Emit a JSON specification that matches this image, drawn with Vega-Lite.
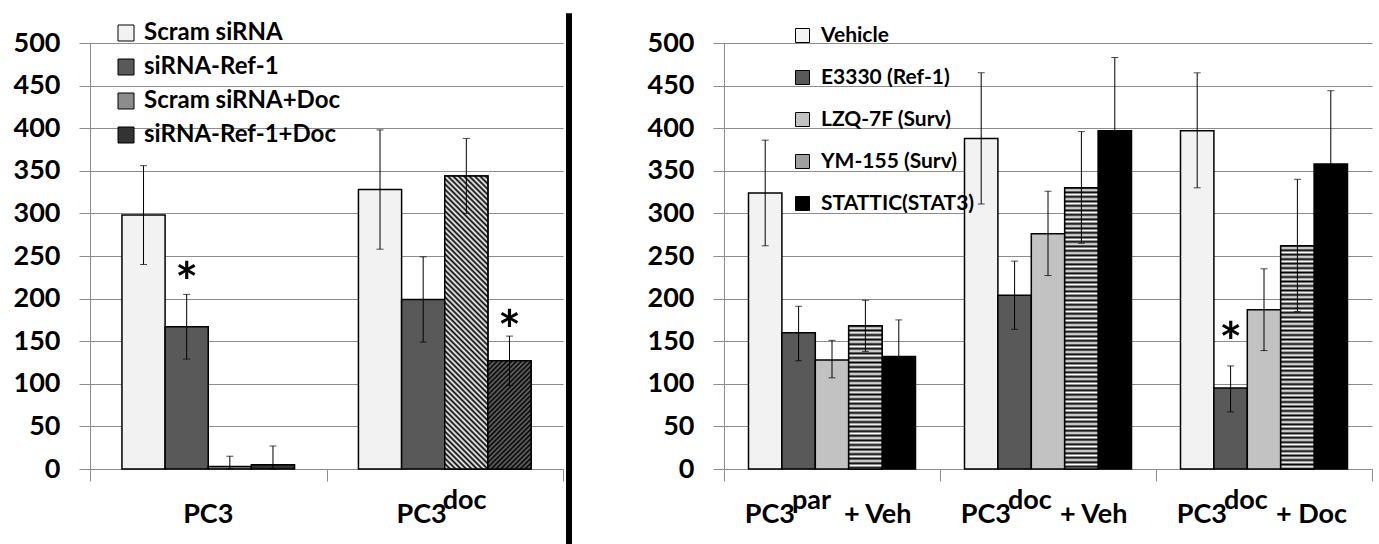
{
  "$schema": "https://vega.github.io/schema/vega-lite/v6.json",
  "padding": {"left": 13, "top": 10, "right": 5, "bottom": 0},
  "spacing": 0,
  "background": "white",
  "datasets": {
    "left_bars": [
      {"cat": "PC3", "s": "Scram siRNA", "v": 298, "lo": 240, "hi": 356},
      {"cat": "PC3", "s": "siRNA-Ref-1", "v": 167, "lo": 129, "hi": 205},
      {"cat": "PC3", "s": "Scram siRNA+Doc", "v": 3, "lo": 0, "hi": 15},
      {"cat": "PC3", "s": "siRNA-Ref-1+Doc", "v": 5, "lo": 0, "hi": 27},
      {"cat": "PC3doc", "s": "Scram siRNA", "v": 328, "lo": 258, "hi": 398},
      {"cat": "PC3doc", "s": "siRNA-Ref-1", "v": 199, "lo": 149, "hi": 249},
      {"cat": "PC3doc", "s": "Scram siRNA+Doc", "v": 344, "lo": 300, "hi": 388},
      {"cat": "PC3doc", "s": "siRNA-Ref-1+Doc", "v": 127, "lo": 98, "hi": 156}
    ],
    "left_stars": [
      {"cat": "PC3", "s": "siRNA-Ref-1", "y": 231, "t": "*"},
      {"cat": "PC3doc", "s": "siRNA-Ref-1+Doc", "y": 175, "t": "*"}
    ],
    "left_labels": [
      {"cat": "PC3", "base": "PC3", "sup": ""},
      {"cat": "PC3doc", "base": "PC3", "sup": "doc"}
    ],
    "right_bars": [
      {"cat": "PC3par + Veh", "s": "Vehicle", "v": 324, "lo": 262, "hi": 386},
      {"cat": "PC3par + Veh", "s": "E3330 (Ref-1)", "v": 160, "lo": 127, "hi": 191},
      {"cat": "PC3par + Veh", "s": "LZQ-7F (Surv)", "v": 128, "lo": 107, "hi": 151},
      {"cat": "PC3par + Veh", "s": "YM-155 (Surv)", "v": 168, "lo": 138, "hi": 198},
      {"cat": "PC3par + Veh", "s": "STATTIC(STAT3)", "v": 132, "lo": 90, "hi": 175},
      {"cat": "PC3doc + Veh", "s": "Vehicle", "v": 388, "lo": 311, "hi": 465},
      {"cat": "PC3doc + Veh", "s": "E3330 (Ref-1)", "v": 204, "lo": 164, "hi": 244},
      {"cat": "PC3doc + Veh", "s": "LZQ-7F (Surv)", "v": 276, "lo": 227, "hi": 326},
      {"cat": "PC3doc + Veh", "s": "YM-155 (Surv)", "v": 330, "lo": 265, "hi": 396},
      {"cat": "PC3doc + Veh", "s": "STATTIC(STAT3)", "v": 397, "lo": 311, "hi": 483},
      {"cat": "PC3doc + Doc", "s": "Vehicle", "v": 397, "lo": 330, "hi": 465},
      {"cat": "PC3doc + Doc", "s": "E3330 (Ref-1)", "v": 95, "lo": 67, "hi": 121},
      {"cat": "PC3doc + Doc", "s": "LZQ-7F (Surv)", "v": 187, "lo": 139, "hi": 235},
      {"cat": "PC3doc + Doc", "s": "YM-155 (Surv)", "v": 262, "lo": 185, "hi": 340},
      {"cat": "PC3doc + Doc", "s": "STATTIC(STAT3)", "v": 358, "lo": 271, "hi": 444}
    ],
    "right_stars": [
      {"cat": "PC3doc + Doc", "s": "E3330 (Ref-1)", "y": 161, "t": "*"}
    ],
    "right_labels": [
      {"cat": "PC3par + Veh", "base": "PC3", "sup": "par", "tail": "+ Veh"},
      {"cat": "PC3doc + Veh", "base": "PC3", "sup": "doc", "tail": "+ Veh"},
      {"cat": "PC3doc + Doc", "base": "PC3", "sup": "doc", "tail": "+ Doc"}
    ],
    "sep": [{"k": 1}]
  },
  "resolve": {
    "scale": {"x": "independent", "y": "independent", "xOffset": "independent", "fill": "independent"},
    "legend": {"fill": "independent"},
    "axis": {"x": "independent", "y": "independent"}
  },
  "hconcat": [
    {
      "width": 473,
      "height": 426,
      "layer": [
        {
          "data": {"name": "left_bars"},
          "mark": {"type": "bar", "stroke": "black", "strokeWidth": 1.5},
          "encoding": {
            "x": {"field": "cat", "type": "nominal", "title": null,
                  "scale": {"domain": ["PC3", "PC3doc"], "paddingInner": 0, "paddingOuter": 0}},
            "xOffset": {"field": "s", "type": "nominal",
                        "scale": {"domain": ["Scram siRNA", "siRNA-Ref-1", "Scram siRNA+Doc", "siRNA-Ref-1+Doc"], "paddingInner": 0, "paddingOuter": 0.7405}},
            "y": {"field": "v", "type": "quantitative", "title": null, "scale": {"domain": [0, 500], "nice": false}},
            "fill": {"field": "s", "type": "nominal",
                     "scale": {"domain": ["Scram siRNA", "siRNA-Ref-1", "Scram siRNA+Doc", "siRNA-Ref-1+Doc"],
                               "range": ["#f2f2f2", "#595959", "#8c8c8c", "#333333"]},
                     "legend": {"orient": "none", "legendX": 24, "legendY": -22, "title": null,
                                "symbolType": "square", "symbolSize": 256, "symbolStrokeColor": "black", "symbolStrokeWidth": 1,
                                "labelFont": "Lato", "labelFontSize": 24, "labelFontWeight": "bold", "labelColor": "black",
                                "labelOffset": 6, "rowPadding": 10, "padding": 0, "labelLimit": 400}}
          }
        },
        {
          "data": {"name": "left_bars"},
          "transform": [{"filter": "datum.cat == 'PC3doc' && datum.s == 'Scram siRNA+Doc'"}],
          "mark": {"type": "bar", "stroke": "black", "strokeWidth": 1.5,
                   "fill": {"gradient": "linear", "x1": 0, "y1": 1, "x2": 0.1653, "y2": -0.1229, "stops": [
{"offset":0,"color":"#000"},{"offset":0.008,"color":"#fff"},{"offset":0.016,"color":"#000"},{"offset":0.024,"color":"#fff"},{"offset":0.032,"color":"#000"},{"offset":0.04,"color":"#fff"},{"offset":0.048,"color":"#000"},{"offset":0.056,"color":"#fff"},{"offset":0.064,"color":"#000"},{"offset":0.072,"color":"#fff"},
{"offset":0.08,"color":"#000"},{"offset":0.088,"color":"#fff"},{"offset":0.096,"color":"#000"},{"offset":0.104,"color":"#fff"},{"offset":0.112,"color":"#000"},{"offset":0.12,"color":"#fff"},{"offset":0.128,"color":"#000"},{"offset":0.136,"color":"#fff"},{"offset":0.144,"color":"#000"},{"offset":0.152,"color":"#fff"},
{"offset":0.16,"color":"#000"},{"offset":0.168,"color":"#fff"},{"offset":0.176,"color":"#000"},{"offset":0.184,"color":"#fff"},{"offset":0.192,"color":"#000"},{"offset":0.2,"color":"#fff"},{"offset":0.208,"color":"#000"},{"offset":0.216,"color":"#fff"},{"offset":0.224,"color":"#000"},{"offset":0.232,"color":"#fff"},
{"offset":0.24,"color":"#000"},{"offset":0.248,"color":"#fff"},{"offset":0.256,"color":"#000"},{"offset":0.264,"color":"#fff"},{"offset":0.272,"color":"#000"},{"offset":0.28,"color":"#fff"},{"offset":0.288,"color":"#000"},{"offset":0.296,"color":"#fff"},{"offset":0.304,"color":"#000"},{"offset":0.312,"color":"#fff"},
{"offset":0.32,"color":"#000"},{"offset":0.328,"color":"#fff"},{"offset":0.336,"color":"#000"},{"offset":0.344,"color":"#fff"},{"offset":0.352,"color":"#000"},{"offset":0.36,"color":"#fff"},{"offset":0.368,"color":"#000"},{"offset":0.376,"color":"#fff"},{"offset":0.384,"color":"#000"},{"offset":0.392,"color":"#fff"},
{"offset":0.4,"color":"#000"},{"offset":0.408,"color":"#fff"},{"offset":0.416,"color":"#000"},{"offset":0.424,"color":"#fff"},{"offset":0.432,"color":"#000"},{"offset":0.44,"color":"#fff"},{"offset":0.448,"color":"#000"},{"offset":0.456,"color":"#fff"},{"offset":0.464,"color":"#000"},{"offset":0.472,"color":"#fff"},
{"offset":0.48,"color":"#000"},{"offset":0.488,"color":"#fff"},{"offset":0.496,"color":"#000"},{"offset":0.504,"color":"#fff"},{"offset":0.512,"color":"#000"},{"offset":0.52,"color":"#fff"},{"offset":0.528,"color":"#000"},{"offset":0.536,"color":"#fff"},{"offset":0.544,"color":"#000"},{"offset":0.552,"color":"#fff"},
{"offset":0.56,"color":"#000"},{"offset":0.568,"color":"#fff"},{"offset":0.576,"color":"#000"},{"offset":0.584,"color":"#fff"},{"offset":0.592,"color":"#000"},{"offset":0.6,"color":"#fff"},{"offset":0.608,"color":"#000"},{"offset":0.616,"color":"#fff"},{"offset":0.624,"color":"#000"},{"offset":0.632,"color":"#fff"},
{"offset":0.64,"color":"#000"},{"offset":0.648,"color":"#fff"},{"offset":0.656,"color":"#000"},{"offset":0.664,"color":"#fff"},{"offset":0.672,"color":"#000"},{"offset":0.68,"color":"#fff"},{"offset":0.688,"color":"#000"},{"offset":0.696,"color":"#fff"},{"offset":0.704,"color":"#000"},{"offset":0.712,"color":"#fff"},
{"offset":0.72,"color":"#000"},{"offset":0.728,"color":"#fff"},{"offset":0.736,"color":"#000"},{"offset":0.744,"color":"#fff"},{"offset":0.752,"color":"#000"},{"offset":0.76,"color":"#fff"},{"offset":0.768,"color":"#000"},{"offset":0.776,"color":"#fff"},{"offset":0.784,"color":"#000"},{"offset":0.792,"color":"#fff"},
{"offset":0.8,"color":"#000"},{"offset":0.808,"color":"#fff"},{"offset":0.816,"color":"#000"},{"offset":0.824,"color":"#fff"},{"offset":0.832,"color":"#000"},{"offset":0.84,"color":"#fff"},{"offset":0.848,"color":"#000"},{"offset":0.856,"color":"#fff"},{"offset":0.864,"color":"#000"},{"offset":0.872,"color":"#fff"},
{"offset":0.88,"color":"#000"},{"offset":0.888,"color":"#fff"},{"offset":0.896,"color":"#000"},{"offset":0.904,"color":"#fff"},{"offset":0.912,"color":"#000"},{"offset":0.92,"color":"#fff"},{"offset":0.928,"color":"#000"},{"offset":0.936,"color":"#fff"},{"offset":0.944,"color":"#000"},{"offset":0.952,"color":"#fff"},
{"offset":0.96,"color":"#000"},{"offset":0.968,"color":"#fff"},{"offset":0.976,"color":"#000"},{"offset":0.984,"color":"#fff"},{"offset":0.992,"color":"#000"},{"offset":1,"color":"#fff"}]}},
          "encoding": {
            "x": {"field": "cat", "type": "nominal", "title": null, "scale": {"domain": ["PC3", "PC3doc"]}},
            "xOffset": {"field": "s", "type": "nominal", "scale": {"domain": ["Scram siRNA", "siRNA-Ref-1", "Scram siRNA+Doc", "siRNA-Ref-1+Doc"]}},
            "y": {"field": "v", "type": "quantitative", "title": null}
          }
        },
        {
          "data": {"name": "left_bars"},
          "transform": [{"filter": "datum.cat == 'PC3doc' && datum.s == 'siRNA-Ref-1+Doc'"}],
          "mark": {"type": "bar", "stroke": "black", "strokeWidth": 1.5,
                   "fill": {"gradient": "linear", "x1": 0, "y1": 0, "x2": 0.4813, "y2": 1.2069, "stops": [
{"offset":0,"color":"#000"},{"offset":0.016,"color":"#6a6a6a"},{"offset":0.032,"color":"#000"},{"offset":0.048,"color":"#6a6a6a"},{"offset":0.064,"color":"#000"},{"offset":0.08,"color":"#6a6a6a"},{"offset":0.096,"color":"#000"},{"offset":0.112,"color":"#6a6a6a"},{"offset":0.128,"color":"#000"},{"offset":0.144,"color":"#6a6a6a"},
{"offset":0.16,"color":"#000"},{"offset":0.176,"color":"#6a6a6a"},{"offset":0.192,"color":"#000"},{"offset":0.208,"color":"#6a6a6a"},{"offset":0.224,"color":"#000"},{"offset":0.24,"color":"#6a6a6a"},{"offset":0.256,"color":"#000"},{"offset":0.272,"color":"#6a6a6a"},{"offset":0.288,"color":"#000"},{"offset":0.304,"color":"#6a6a6a"},
{"offset":0.32,"color":"#000"},{"offset":0.336,"color":"#6a6a6a"},{"offset":0.352,"color":"#000"},{"offset":0.368,"color":"#6a6a6a"},{"offset":0.384,"color":"#000"},{"offset":0.4,"color":"#6a6a6a"},{"offset":0.416,"color":"#000"},{"offset":0.432,"color":"#6a6a6a"},{"offset":0.448,"color":"#000"},{"offset":0.464,"color":"#6a6a6a"},
{"offset":0.48,"color":"#000"},{"offset":0.496,"color":"#6a6a6a"},{"offset":0.512,"color":"#000"},{"offset":0.528,"color":"#6a6a6a"},{"offset":0.544,"color":"#000"},{"offset":0.56,"color":"#6a6a6a"},{"offset":0.576,"color":"#000"},{"offset":0.592,"color":"#6a6a6a"},{"offset":0.608,"color":"#000"},{"offset":0.624,"color":"#6a6a6a"},
{"offset":0.64,"color":"#000"},{"offset":0.656,"color":"#6a6a6a"},{"offset":0.672,"color":"#000"},{"offset":0.688,"color":"#6a6a6a"},{"offset":0.704,"color":"#000"},{"offset":0.72,"color":"#6a6a6a"},{"offset":0.736,"color":"#000"},{"offset":0.752,"color":"#6a6a6a"},{"offset":0.768,"color":"#000"},{"offset":0.784,"color":"#6a6a6a"},
{"offset":0.8,"color":"#000"},{"offset":0.816,"color":"#6a6a6a"},{"offset":0.832,"color":"#000"},{"offset":0.848,"color":"#6a6a6a"},{"offset":0.864,"color":"#000"},{"offset":0.88,"color":"#6a6a6a"},{"offset":0.896,"color":"#000"},{"offset":0.912,"color":"#6a6a6a"},{"offset":0.928,"color":"#000"},{"offset":0.944,"color":"#6a6a6a"},
{"offset":0.96,"color":"#000"},{"offset":0.976,"color":"#6a6a6a"},{"offset":0.992,"color":"#000"},{"offset":1,"color":"#6a6a6a"}]}},
          "encoding": {
            "x": {"field": "cat", "type": "nominal", "title": null, "scale": {"domain": ["PC3", "PC3doc"]}},
            "xOffset": {"field": "s", "type": "nominal", "scale": {"domain": ["Scram siRNA", "siRNA-Ref-1", "Scram siRNA+Doc", "siRNA-Ref-1+Doc"]}},
            "y": {"field": "v", "type": "quantitative", "title": null}
          }
        },
        {
          "data": {"name": "left_bars"},
          "mark": {"type": "rule", "color": "black", "strokeWidth": 1},
          "encoding": {
            "x": {"field": "cat", "type": "nominal", "title": null, "scale": {"domain": ["PC3", "PC3doc"]}},
            "xOffset": {"field": "s", "type": "nominal", "scale": {"domain": ["Scram siRNA", "siRNA-Ref-1", "Scram siRNA+Doc", "siRNA-Ref-1+Doc"]}},
            "y": {"field": "lo", "type": "quantitative", "title": null},
            "y2": {"field": "hi"}
          }
        },
        {
          "data": {"name": "left_bars"},
          "mark": {"type": "tick", "color": "black", "size": 7, "thickness": 1},
          "encoding": {
            "x": {"field": "cat", "type": "nominal", "title": null, "scale": {"domain": ["PC3", "PC3doc"]}},
            "xOffset": {"field": "s", "type": "nominal", "scale": {"domain": ["Scram siRNA", "siRNA-Ref-1", "Scram siRNA+Doc", "siRNA-Ref-1+Doc"]}},
            "y": {"field": "hi", "type": "quantitative", "title": null}
          }
        },
        {
          "data": {"name": "left_bars"},
          "mark": {"type": "tick", "color": "black", "size": 7, "thickness": 1},
          "encoding": {
            "x": {"field": "cat", "type": "nominal", "title": null, "scale": {"domain": ["PC3", "PC3doc"]}},
            "xOffset": {"field": "s", "type": "nominal", "scale": {"domain": ["Scram siRNA", "siRNA-Ref-1", "Scram siRNA+Doc", "siRNA-Ref-1+Doc"]}},
            "y": {"field": "lo", "type": "quantitative", "title": null}
          }
        },
        {
          "data": {"name": "left_stars"},
          "mark": {"type": "text", "font": "Lato", "fontSize": 54, "fontWeight": "bold", "baseline": "middle", "color": "black", "dy": 13},
          "encoding": {
            "x": {"field": "cat", "type": "nominal", "title": null, "scale": {"domain": ["PC3", "PC3doc"]}},
            "xOffset": {"field": "s", "type": "nominal", "scale": {"domain": ["Scram siRNA", "siRNA-Ref-1", "Scram siRNA+Doc", "siRNA-Ref-1+Doc"]}},
            "y": {"field": "y", "type": "quantitative", "title": null},
            "text": {"field": "t"}
          }
        },
        {
          "data": {"name": "left_labels"},
          "transform": [{"filter": "datum.sup == ''"}],
          "mark": {"type": "text", "font": "Lato", "fontSize": 27, "fontWeight": "bold", "baseline": "alphabetic", "align": "center", "color": "black", "dy": 54},
          "encoding": {
            "x": {"field": "cat", "type": "nominal", "title": null, "scale": {"domain": ["PC3", "PC3doc"]}},
            "y": {"datum": 0},
            "text": {"field": "base"}
          }
        },
        {
          "data": {"name": "left_labels"},
          "transform": [{"filter": "datum.sup != ''"}],
          "mark": {"type": "text", "font": "Lato", "fontSize": 27, "fontWeight": "bold", "baseline": "alphabetic", "align": "right", "color": "black", "dy": 54, "dx": 2},
          "encoding": {
            "x": {"field": "cat", "type": "nominal", "title": null, "scale": {"domain": ["PC3", "PC3doc"]}},
            "y": {"datum": 0},
            "text": {"field": "base"}
          }
        },
        {
          "data": {"name": "left_labels"},
          "transform": [{"filter": "datum.sup != ''"}],
          "mark": {"type": "text", "font": "Lato", "fontSize": 27, "fontWeight": "bold", "baseline": "alphabetic", "align": "left", "color": "black", "dy": 40, "dx": -2},
          "encoding": {
            "x": {"field": "cat", "type": "nominal", "title": null, "scale": {"domain": ["PC3", "PC3doc"]}},
            "y": {"datum": 0},
            "text": {"field": "sup"}
          }
        }
      ]
    },
    {
      "width": 83,
      "height": 426,
      "data": {"name": "sep"},
      "mark": {"type": "rule", "color": "black", "strokeWidth": 6},
      "encoding": {
        "x": {"datum": 5, "type": "quantitative", "scale": {"domain": [0, 83]}, "axis": null},
        "y": {"datum": 535, "type": "quantitative", "scale": {"domain": [0, 500]}, "axis": null},
        "y2": {"datum": -92}
      }
    },
    {
      "width": 648,
      "height": 426,
      "layer": [
        {
          "data": {"name": "right_bars"},
          "mark": {"type": "bar", "stroke": "black", "strokeWidth": 1.5},
          "encoding": {
            "x": {"field": "cat", "type": "nominal", "title": null,
                  "scale": {"domain": ["PC3par + Veh", "PC3doc + Veh", "PC3doc + Doc"], "paddingInner": 0, "paddingOuter": 0}},
            "xOffset": {"field": "s", "type": "nominal",
                        "scale": {"domain": ["Vehicle", "E3330 (Ref-1)", "LZQ-7F (Surv)", "YM-155 (Surv)", "STATTIC(STAT3)"], "paddingInner": 0, "paddingOuter": 0.7335}},
            "y": {"field": "v", "type": "quantitative", "title": null, "scale": {"domain": [0, 500], "nice": false}},
            "fill": {"field": "s", "type": "nominal",
                     "scale": {"domain": ["Vehicle", "E3330 (Ref-1)", "LZQ-7F (Surv)", "YM-155 (Surv)", "STATTIC(STAT3)"],
                               "range": ["#f2f2f2", "#595959", "#c2c2c2", "#a0a0a0", "#000000"]},
                     "legend": {"orient": "none", "legendX": 68, "legendY": -18, "title": null,
                                "symbolType": "square", "symbolSize": 196, "symbolStrokeColor": "black", "symbolStrokeWidth": 1,
                                "labelFont": "Lato", "labelFontSize": 21, "labelFontWeight": "bold", "labelColor": "black",
                                "labelOffset": 8, "rowPadding": 20, "padding": 0, "labelLimit": 400}}
          }
        },
        {
          "data": {"name": "right_bars"},
          "transform": [{"filter": "datum.cat == 'PC3par + Veh' && datum.s == 'YM-155 (Surv)'"}],
          "mark": {"type": "bar", "stroke": "black", "strokeWidth": 1.5,
                   "fill": {"gradient": "linear", "x1": 0, "y1": 0, "x2": 0, "y2": 1, "stops": [
{"offset":0,"color":"#000"},{"offset":0.016,"color":"#fff"},{"offset":0.032,"color":"#000"},{"offset":0.048,"color":"#fff"},{"offset":0.064,"color":"#000"},{"offset":0.08,"color":"#fff"},{"offset":0.096,"color":"#000"},{"offset":0.112,"color":"#fff"},{"offset":0.128,"color":"#000"},{"offset":0.144,"color":"#fff"},
{"offset":0.16,"color":"#000"},{"offset":0.176,"color":"#fff"},{"offset":0.192,"color":"#000"},{"offset":0.208,"color":"#fff"},{"offset":0.224,"color":"#000"},{"offset":0.24,"color":"#fff"},{"offset":0.256,"color":"#000"},{"offset":0.272,"color":"#fff"},{"offset":0.288,"color":"#000"},{"offset":0.304,"color":"#fff"},
{"offset":0.32,"color":"#000"},{"offset":0.336,"color":"#fff"},{"offset":0.352,"color":"#000"},{"offset":0.368,"color":"#fff"},{"offset":0.384,"color":"#000"},{"offset":0.4,"color":"#fff"},{"offset":0.416,"color":"#000"},{"offset":0.432,"color":"#fff"},{"offset":0.448,"color":"#000"},{"offset":0.464,"color":"#fff"},
{"offset":0.48,"color":"#000"},{"offset":0.496,"color":"#fff"},{"offset":0.512,"color":"#000"},{"offset":0.528,"color":"#fff"},{"offset":0.544,"color":"#000"},{"offset":0.56,"color":"#fff"},{"offset":0.576,"color":"#000"},{"offset":0.592,"color":"#fff"},{"offset":0.608,"color":"#000"},{"offset":0.624,"color":"#fff"},
{"offset":0.64,"color":"#000"},{"offset":0.656,"color":"#fff"},{"offset":0.672,"color":"#000"},{"offset":0.688,"color":"#fff"},{"offset":0.704,"color":"#000"},{"offset":0.72,"color":"#fff"},{"offset":0.736,"color":"#000"},{"offset":0.752,"color":"#fff"},{"offset":0.768,"color":"#000"},{"offset":0.784,"color":"#fff"},
{"offset":0.8,"color":"#000"},{"offset":0.816,"color":"#fff"},{"offset":0.832,"color":"#000"},{"offset":0.848,"color":"#fff"},{"offset":0.864,"color":"#000"},{"offset":0.88,"color":"#fff"},{"offset":0.896,"color":"#000"},{"offset":0.912,"color":"#fff"},{"offset":0.928,"color":"#000"},{"offset":0.944,"color":"#fff"},
{"offset":0.96,"color":"#000"},{"offset":0.976,"color":"#fff"},{"offset":0.992,"color":"#000"},{"offset":1,"color":"#fff"}]}},
          "encoding": {
            "x": {"field": "cat", "type": "nominal", "title": null, "scale": {"domain": ["PC3par + Veh", "PC3doc + Veh", "PC3doc + Doc"]}},
            "xOffset": {"field": "s", "type": "nominal", "scale": {"domain": ["Vehicle", "E3330 (Ref-1)", "LZQ-7F (Surv)", "YM-155 (Surv)", "STATTIC(STAT3)"]}},
            "y": {"field": "v", "type": "quantitative", "title": null}
          }
        },
        {
          "data": {"name": "right_bars"},
          "transform": [{"filter": "datum.cat == 'PC3doc + Veh' && datum.s == 'YM-155 (Surv)'"}],
          "mark": {"type": "bar", "stroke": "black", "strokeWidth": 1.5,
                   "fill": {"gradient": "linear", "x1": 0, "y1": 0, "x2": 0, "y2": 1, "stops": [
{"offset":0,"color":"#000"},{"offset":0.008,"color":"#fff"},{"offset":0.016,"color":"#000"},{"offset":0.024,"color":"#fff"},{"offset":0.032,"color":"#000"},{"offset":0.04,"color":"#fff"},{"offset":0.048,"color":"#000"},{"offset":0.056,"color":"#fff"},{"offset":0.064,"color":"#000"},{"offset":0.072,"color":"#fff"},
{"offset":0.08,"color":"#000"},{"offset":0.088,"color":"#fff"},{"offset":0.096,"color":"#000"},{"offset":0.104,"color":"#fff"},{"offset":0.112,"color":"#000"},{"offset":0.12,"color":"#fff"},{"offset":0.128,"color":"#000"},{"offset":0.136,"color":"#fff"},{"offset":0.144,"color":"#000"},{"offset":0.152,"color":"#fff"},
{"offset":0.16,"color":"#000"},{"offset":0.168,"color":"#fff"},{"offset":0.176,"color":"#000"},{"offset":0.184,"color":"#fff"},{"offset":0.192,"color":"#000"},{"offset":0.2,"color":"#fff"},{"offset":0.208,"color":"#000"},{"offset":0.216,"color":"#fff"},{"offset":0.224,"color":"#000"},{"offset":0.232,"color":"#fff"},
{"offset":0.24,"color":"#000"},{"offset":0.248,"color":"#fff"},{"offset":0.256,"color":"#000"},{"offset":0.264,"color":"#fff"},{"offset":0.272,"color":"#000"},{"offset":0.28,"color":"#fff"},{"offset":0.288,"color":"#000"},{"offset":0.296,"color":"#fff"},{"offset":0.304,"color":"#000"},{"offset":0.312,"color":"#fff"},
{"offset":0.32,"color":"#000"},{"offset":0.328,"color":"#fff"},{"offset":0.336,"color":"#000"},{"offset":0.344,"color":"#fff"},{"offset":0.352,"color":"#000"},{"offset":0.36,"color":"#fff"},{"offset":0.368,"color":"#000"},{"offset":0.376,"color":"#fff"},{"offset":0.384,"color":"#000"},{"offset":0.392,"color":"#fff"},
{"offset":0.4,"color":"#000"},{"offset":0.408,"color":"#fff"},{"offset":0.416,"color":"#000"},{"offset":0.424,"color":"#fff"},{"offset":0.432,"color":"#000"},{"offset":0.44,"color":"#fff"},{"offset":0.448,"color":"#000"},{"offset":0.456,"color":"#fff"},{"offset":0.464,"color":"#000"},{"offset":0.472,"color":"#fff"},
{"offset":0.48,"color":"#000"},{"offset":0.488,"color":"#fff"},{"offset":0.496,"color":"#000"},{"offset":0.504,"color":"#fff"},{"offset":0.512,"color":"#000"},{"offset":0.52,"color":"#fff"},{"offset":0.528,"color":"#000"},{"offset":0.536,"color":"#fff"},{"offset":0.544,"color":"#000"},{"offset":0.552,"color":"#fff"},
{"offset":0.56,"color":"#000"},{"offset":0.568,"color":"#fff"},{"offset":0.576,"color":"#000"},{"offset":0.584,"color":"#fff"},{"offset":0.592,"color":"#000"},{"offset":0.6,"color":"#fff"},{"offset":0.608,"color":"#000"},{"offset":0.616,"color":"#fff"},{"offset":0.624,"color":"#000"},{"offset":0.632,"color":"#fff"},
{"offset":0.64,"color":"#000"},{"offset":0.648,"color":"#fff"},{"offset":0.656,"color":"#000"},{"offset":0.664,"color":"#fff"},{"offset":0.672,"color":"#000"},{"offset":0.68,"color":"#fff"},{"offset":0.688,"color":"#000"},{"offset":0.696,"color":"#fff"},{"offset":0.704,"color":"#000"},{"offset":0.712,"color":"#fff"},
{"offset":0.72,"color":"#000"},{"offset":0.728,"color":"#fff"},{"offset":0.736,"color":"#000"},{"offset":0.744,"color":"#fff"},{"offset":0.752,"color":"#000"},{"offset":0.76,"color":"#fff"},{"offset":0.768,"color":"#000"},{"offset":0.776,"color":"#fff"},{"offset":0.784,"color":"#000"},{"offset":0.792,"color":"#fff"},
{"offset":0.8,"color":"#000"},{"offset":0.808,"color":"#fff"},{"offset":0.816,"color":"#000"},{"offset":0.824,"color":"#fff"},{"offset":0.832,"color":"#000"},{"offset":0.84,"color":"#fff"},{"offset":0.848,"color":"#000"},{"offset":0.856,"color":"#fff"},{"offset":0.864,"color":"#000"},{"offset":0.872,"color":"#fff"},
{"offset":0.88,"color":"#000"},{"offset":0.888,"color":"#fff"},{"offset":0.896,"color":"#000"},{"offset":0.904,"color":"#fff"},{"offset":0.912,"color":"#000"},{"offset":0.92,"color":"#fff"},{"offset":0.928,"color":"#000"},{"offset":0.936,"color":"#fff"},{"offset":0.944,"color":"#000"},{"offset":0.952,"color":"#fff"},
{"offset":0.96,"color":"#000"},{"offset":0.968,"color":"#fff"},{"offset":0.976,"color":"#000"},{"offset":0.984,"color":"#fff"},{"offset":0.992,"color":"#000"},{"offset":1,"color":"#fff"}]}},
          "encoding": {
            "x": {"field": "cat", "type": "nominal", "title": null, "scale": {"domain": ["PC3par + Veh", "PC3doc + Veh", "PC3doc + Doc"]}},
            "xOffset": {"field": "s", "type": "nominal", "scale": {"domain": ["Vehicle", "E3330 (Ref-1)", "LZQ-7F (Surv)", "YM-155 (Surv)", "STATTIC(STAT3)"]}},
            "y": {"field": "v", "type": "quantitative", "title": null}
          }
        },
        {
          "data": {"name": "right_bars"},
          "transform": [{"filter": "datum.cat == 'PC3doc + Doc' && datum.s == 'YM-155 (Surv)'"}],
          "mark": {"type": "bar", "stroke": "black", "strokeWidth": 1.5,
                   "fill": {"gradient": "linear", "x1": 0, "y1": 0, "x2": 0, "y2": 1, "stops": [
{"offset":0,"color":"#000"},{"offset":0.01,"color":"#fff"},{"offset":0.02,"color":"#000"},{"offset":0.03,"color":"#fff"},{"offset":0.04,"color":"#000"},{"offset":0.05,"color":"#fff"},{"offset":0.06,"color":"#000"},{"offset":0.07,"color":"#fff"},{"offset":0.08,"color":"#000"},{"offset":0.09,"color":"#fff"},
{"offset":0.1,"color":"#000"},{"offset":0.11,"color":"#fff"},{"offset":0.12,"color":"#000"},{"offset":0.13,"color":"#fff"},{"offset":0.14,"color":"#000"},{"offset":0.15,"color":"#fff"},{"offset":0.16,"color":"#000"},{"offset":0.17,"color":"#fff"},{"offset":0.18,"color":"#000"},{"offset":0.19,"color":"#fff"},
{"offset":0.2,"color":"#000"},{"offset":0.21,"color":"#fff"},{"offset":0.22,"color":"#000"},{"offset":0.23,"color":"#fff"},{"offset":0.24,"color":"#000"},{"offset":0.25,"color":"#fff"},{"offset":0.26,"color":"#000"},{"offset":0.27,"color":"#fff"},{"offset":0.28,"color":"#000"},{"offset":0.29,"color":"#fff"},
{"offset":0.3,"color":"#000"},{"offset":0.31,"color":"#fff"},{"offset":0.32,"color":"#000"},{"offset":0.33,"color":"#fff"},{"offset":0.34,"color":"#000"},{"offset":0.35,"color":"#fff"},{"offset":0.36,"color":"#000"},{"offset":0.37,"color":"#fff"},{"offset":0.38,"color":"#000"},{"offset":0.39,"color":"#fff"},
{"offset":0.4,"color":"#000"},{"offset":0.41,"color":"#fff"},{"offset":0.42,"color":"#000"},{"offset":0.43,"color":"#fff"},{"offset":0.44,"color":"#000"},{"offset":0.45,"color":"#fff"},{"offset":0.46,"color":"#000"},{"offset":0.47,"color":"#fff"},{"offset":0.48,"color":"#000"},{"offset":0.49,"color":"#fff"},
{"offset":0.5,"color":"#000"},{"offset":0.51,"color":"#fff"},{"offset":0.52,"color":"#000"},{"offset":0.53,"color":"#fff"},{"offset":0.54,"color":"#000"},{"offset":0.55,"color":"#fff"},{"offset":0.56,"color":"#000"},{"offset":0.57,"color":"#fff"},{"offset":0.58,"color":"#000"},{"offset":0.59,"color":"#fff"},
{"offset":0.6,"color":"#000"},{"offset":0.61,"color":"#fff"},{"offset":0.62,"color":"#000"},{"offset":0.63,"color":"#fff"},{"offset":0.64,"color":"#000"},{"offset":0.65,"color":"#fff"},{"offset":0.66,"color":"#000"},{"offset":0.67,"color":"#fff"},{"offset":0.68,"color":"#000"},{"offset":0.69,"color":"#fff"},
{"offset":0.7,"color":"#000"},{"offset":0.71,"color":"#fff"},{"offset":0.72,"color":"#000"},{"offset":0.73,"color":"#fff"},{"offset":0.74,"color":"#000"},{"offset":0.75,"color":"#fff"},{"offset":0.76,"color":"#000"},{"offset":0.77,"color":"#fff"},{"offset":0.78,"color":"#000"},{"offset":0.79,"color":"#fff"},
{"offset":0.8,"color":"#000"},{"offset":0.81,"color":"#fff"},{"offset":0.82,"color":"#000"},{"offset":0.83,"color":"#fff"},{"offset":0.84,"color":"#000"},{"offset":0.85,"color":"#fff"},{"offset":0.86,"color":"#000"},{"offset":0.87,"color":"#fff"},{"offset":0.88,"color":"#000"},{"offset":0.89,"color":"#fff"},
{"offset":0.9,"color":"#000"},{"offset":0.91,"color":"#fff"},{"offset":0.92,"color":"#000"},{"offset":0.93,"color":"#fff"},{"offset":0.94,"color":"#000"},{"offset":0.95,"color":"#fff"},{"offset":0.96,"color":"#000"},{"offset":0.97,"color":"#fff"},{"offset":0.98,"color":"#000"},{"offset":0.99,"color":"#fff"},
{"offset":1,"color":"#000"}]}},
          "encoding": {
            "x": {"field": "cat", "type": "nominal", "title": null, "scale": {"domain": ["PC3par + Veh", "PC3doc + Veh", "PC3doc + Doc"]}},
            "xOffset": {"field": "s", "type": "nominal", "scale": {"domain": ["Vehicle", "E3330 (Ref-1)", "LZQ-7F (Surv)", "YM-155 (Surv)", "STATTIC(STAT3)"]}},
            "y": {"field": "v", "type": "quantitative", "title": null}
          }
        },
        {
          "data": {"name": "right_bars"},
          "mark": {"type": "rule", "color": "black", "strokeWidth": 1},
          "encoding": {
            "x": {"field": "cat", "type": "nominal", "title": null, "scale": {"domain": ["PC3par + Veh", "PC3doc + Veh", "PC3doc + Doc"]}},
            "xOffset": {"field": "s", "type": "nominal", "scale": {"domain": ["Vehicle", "E3330 (Ref-1)", "LZQ-7F (Surv)", "YM-155 (Surv)", "STATTIC(STAT3)"]}},
            "y": {"field": "lo", "type": "quantitative", "title": null},
            "y2": {"field": "hi"}
          }
        },
        {
          "data": {"name": "right_bars"},
          "mark": {"type": "tick", "color": "black", "size": 7, "thickness": 1},
          "encoding": {
            "x": {"field": "cat", "type": "nominal", "title": null, "scale": {"domain": ["PC3par + Veh", "PC3doc + Veh", "PC3doc + Doc"]}},
            "xOffset": {"field": "s", "type": "nominal", "scale": {"domain": ["Vehicle", "E3330 (Ref-1)", "LZQ-7F (Surv)", "YM-155 (Surv)", "STATTIC(STAT3)"]}},
            "y": {"field": "hi", "type": "quantitative", "title": null}
          }
        },
        {
          "data": {"name": "right_bars"},
          "mark": {"type": "tick", "color": "black", "size": 7, "thickness": 1},
          "encoding": {
            "x": {"field": "cat", "type": "nominal", "title": null, "scale": {"domain": ["PC3par + Veh", "PC3doc + Veh", "PC3doc + Doc"]}},
            "xOffset": {"field": "s", "type": "nominal", "scale": {"domain": ["Vehicle", "E3330 (Ref-1)", "LZQ-7F (Surv)", "YM-155 (Surv)", "STATTIC(STAT3)"]}},
            "y": {"field": "lo", "type": "quantitative", "title": null}
          }
        },
        {
          "data": {"name": "right_stars"},
          "mark": {"type": "text", "font": "Lato", "fontSize": 54, "fontWeight": "bold", "baseline": "middle", "color": "black", "dy": 13},
          "encoding": {
            "x": {"field": "cat", "type": "nominal", "title": null, "scale": {"domain": ["PC3par + Veh", "PC3doc + Veh", "PC3doc + Doc"]}},
            "xOffset": {"field": "s", "type": "nominal", "scale": {"domain": ["Vehicle", "E3330 (Ref-1)", "LZQ-7F (Surv)", "YM-155 (Surv)", "STATTIC(STAT3)"]}},
            "y": {"field": "y", "type": "quantitative", "title": null},
            "text": {"field": "t"}
          }
        },
        {
          "data": {"name": "right_labels"},
          "mark": {"type": "text", "font": "Lato", "fontSize": 27, "fontWeight": "bold", "baseline": "alphabetic", "align": "right", "color": "black", "dy": 54, "dx": -37},
          "encoding": {
            "x": {"field": "cat", "type": "nominal", "title": null, "scale": {"domain": ["PC3par + Veh", "PC3doc + Veh", "PC3doc + Doc"]}},
            "y": {"datum": 0},
            "text": {"field": "base"}
          }
        },
        {
          "data": {"name": "right_labels"},
          "mark": {"type": "text", "font": "Lato", "fontSize": 27, "fontWeight": "bold", "baseline": "alphabetic", "align": "left", "color": "black", "dy": 40, "dx": -40},
          "encoding": {
            "x": {"field": "cat", "type": "nominal", "title": null, "scale": {"domain": ["PC3par + Veh", "PC3doc + Veh", "PC3doc + Doc"]}},
            "y": {"datum": 0},
            "text": {"field": "sup"}
          }
        },
        {
          "data": {"name": "right_labels"},
          "mark": {"type": "text", "font": "Lato", "fontSize": 27, "fontWeight": "bold", "baseline": "alphabetic", "align": "left", "color": "black", "dy": 54, "dx": 12},
          "encoding": {
            "x": {"field": "cat", "type": "nominal", "title": null, "scale": {"domain": ["PC3par + Veh", "PC3doc + Veh", "PC3doc + Doc"]}},
            "y": {"datum": 0},
            "text": {"field": "tail"}
          }
        }
      ]
    }
  ],
  "config": {
    "view": {"stroke": null},
    "font": "Lato",
    "axisY": {
      "values": [0, 50, 100, 150, 200, 250, 300, 350, 400, 450, 500],
      "labelFont": "Lato", "labelFontSize": 27, "labelFontWeight": "bold", "labelColor": "black",
      "labelPadding": 19, "tickSize": 11, "tickColor": "#8c8c8c", "domainColor": "#8c8c8c",
      "grid": true, "gridColor": "#8c8c8c", "gridWidth": 1, "title": null
    },
    "axisX": {
      "labels": false, "ticks": true, "tickBand": "extent", "tickSize": 12,
      "tickColor": "#8c8c8c", "domainColor": "#8c8c8c", "grid": false, "title": null
    }
  }
}
